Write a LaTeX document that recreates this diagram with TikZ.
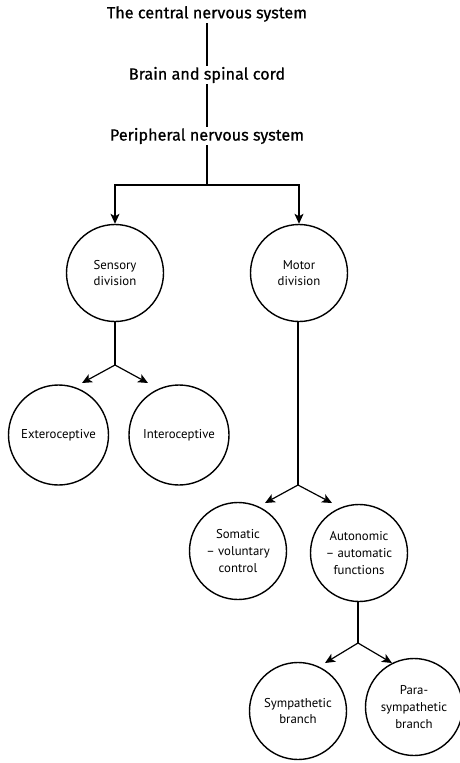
\documentclass[tikz,border=0pt]{standalone}
\usepackage{fontspec}
\setmainfont{Fira Sans}
\newfontfamily\titlefont{Fira Sans}[FakeBold=0.7]
\newfontfamily\circfont{PT Sans}
\usetikzlibrary{arrows.meta}
\tikzset{
  title/.style={font=\titlefont\fontsize{16.2}{18}\selectfont, inner sep=1pt},
  circ/.style={circle, draw, line width=1.4pt, minimum size=97pt, inner sep=0pt, align=center, font=\circfont\fontsize{12.8}{16.8}\selectfont},
  conn/.style={line width=1.2pt},
  arr/.style={line width=1.2pt, -{Stealth[length=10pt,width=9pt,inset=2.5pt]}}
}
\begin{document}
\begin{tikzpicture}[x=1pt,y=-1pt]
\useasboundingbox (0,0) rectangle (460,763);
\node[title] (cns) at (207,14) {The central nervous system};
\node[title] (bsc) at (207,75) {Brain and spinal cord};
\node[title] (pns) at (207,136) {Peripheral nervous system};
\node[circ] (sens) at (115,273) {Sensory\\division};
\node[circ] (mot) at (299,273) {Motor\\division};
\node[circ, minimum size=100pt] (ext) at (58.5,435) {Exteroceptive};
\node[circ, minimum size=100pt] (int) at (179,435) {Interoceptive};
\node[circ] (som) at (238,551) {Somatic\\– voluntary\\control};
\node[circ] (aut) at (359,553) {Autonomic\\– automatic\\functions};
\node[circ] (sym) at (298,711) {Sympathetic\\branch};
\node[circ] (par) at (414,707) {Para-\\sympathetic\\branch};
\coordinate (j0) at (207,185);
\coordinate (jl) at (115,185);
\coordinate (jr) at (299,185);
\coordinate (b1) at (115,365);
\coordinate (t1a) at (82,383);
\coordinate (t1b) at (148,383);
\coordinate (b2) at (298,485);
\coordinate (t2a) at (265,503);
\coordinate (t2b) at (332,503);
\coordinate (b3) at (358,643);
\coordinate (t3a) at (325,663);
\coordinate (t3b) at (392,663);
\draw[conn] (cns) -- (bsc);
\draw[conn] (bsc) -- (pns);
\draw[conn] (pns) -- (j0);
\draw[arr] (j0) -- (jl) -- (sens);
\draw[arr] (j0) -- (jr) -- (mot);
\draw[conn] (sens) -- (b1);
\draw[arr] (b1) -- (t1a);
\draw[arr] (b1) -- (t1b);
\draw[conn] (mot.south -| b2) -- (b2);
\draw[arr] (b2) -- (t2a);
\draw[arr] (b2) -- (t2b);
\draw[conn] (aut.south -| b3) -- (b3);
\draw[arr] (b3) -- (t3a);
\draw[arr] (b3) -- (t3b);
\end{tikzpicture}
\end{document}
